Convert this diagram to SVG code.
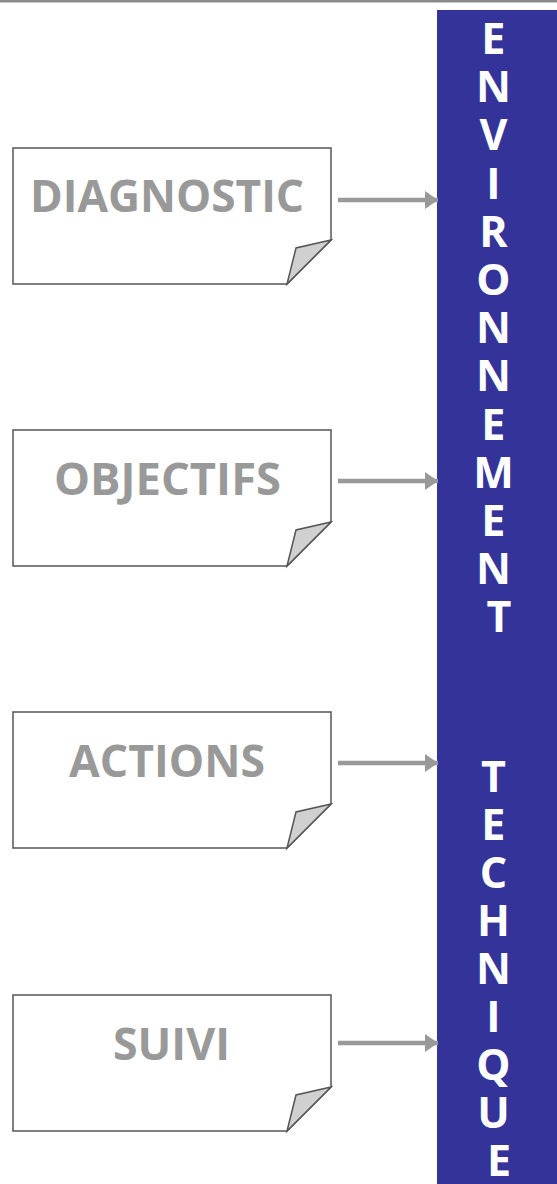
<svg xmlns="http://www.w3.org/2000/svg" width="557" height="1184" viewBox="0 0 557 1184">
  <style>
    .page { fill: #ffffff; stroke: #555555; stroke-width: 1.5; }
    .fold { fill: #d0d0d0; stroke: #555555; stroke-width: 1.5; stroke-linejoin: miter; }
    .label { font-family: "Open Sans", "Liberation Sans", sans-serif; font-weight: bold; font-size: 44px; fill: #999999; }
    .link { stroke: #999999; stroke-width: 4.5; fill: none; }
    .band-text { font-family: "Open Sans", "Liberation Sans", sans-serif; font-weight: bold; font-size: 43px; fill: #ffffff; text-anchor: middle; }
  </style>
  <defs>
    <marker id="head" markerUnits="userSpaceOnUse" markerWidth="14" markerHeight="18" refX="13" refY="9" orient="auto">
      <path d="M0,0 L13,9 L0,18 Z" fill="#999999"/>
    </marker>
  </defs>

  <rect width="557" height="1184" fill="#ffffff"/>
  <!-- top rule -->
  <rect x="0" y="0" width="557" height="2.5" fill="#8a8a8a"/>

  <!-- vertical band -->
  <g id="band">
    <rect x="437" y="10" width="120" height="1174" fill="#333399"/>
    <text class="band-text">
      <tspan x="499" y="54">E</tspan>
      <tspan x="499" y="102">N</tspan>
      <tspan x="499" y="150">V</tspan>
      <tspan x="499" y="199">I</tspan>
      <tspan x="499" y="247">R</tspan>
      <tspan x="499" y="295">O</tspan>
      <tspan x="499" y="343">N</tspan>
      <tspan x="499" y="391">N</tspan>
      <tspan x="499" y="440">E</tspan>
      <tspan x="499" y="488">M</tspan>
      <tspan x="499" y="536">E</tspan>
      <tspan x="499" y="584">N</tspan>
      <tspan x="499" y="632">T</tspan>
    </text>
    <text class="band-text">
      <tspan x="499" y="792">T</tspan>
      <tspan x="499" y="840">E</tspan>
      <tspan x="499" y="888">C</tspan>
      <tspan x="499" y="936">H</tspan>
      <tspan x="499" y="984">N</tspan>
      <tspan x="499" y="1032">I</tspan>
      <tspan x="499" y="1080">Q</tspan>
      <tspan x="499" y="1128">U</tspan>
      <tspan x="499" y="1176">E</tspan>
    </text>
  </g>

  <!-- connectors -->
  <g id="connectors">
    <line class="link" x1="338" y1="200" x2="438" y2="200" marker-end="url(#head)"/>
    <line class="link" x1="338" y1="481" x2="438" y2="481" marker-end="url(#head)"/>
    <line class="link" x1="338" y1="763" x2="438" y2="763" marker-end="url(#head)"/>
    <line class="link" x1="338" y1="1043" x2="438" y2="1043" marker-end="url(#head)"/>
  </g>

  <g id="diagnostic">
    <path class="page" d="M13,148 H331 V240 L287,284 H13 Z"/>
    <path class="fold" d="M331,240 L296,248 L287,284 Z"/>
    <text class="label" x="30" y="212" textLength="274" lengthAdjust="spacingAndGlyphs">DIAGNOSTIC</text>
  </g>

  <g id="objectifs">
    <path class="page" d="M13,430 H331 V522 L287,566 H13 Z"/>
    <path class="fold" d="M331,522 L296,530 L287,566 Z"/>
    <text class="label" x="54" y="495" textLength="227" lengthAdjust="spacingAndGlyphs">OBJECTIFS</text>
  </g>

  <g id="actions">
    <path class="page" d="M13,712 H331 V804 L287,848 H13 Z"/>
    <path class="fold" d="M331,804 L296,812 L287,848 Z"/>
    <text class="label" x="69" y="777" textLength="196" lengthAdjust="spacingAndGlyphs">ACTIONS</text>
  </g>

  <g id="suivi">
    <path class="page" d="M13,995 H331 V1087 L287,1131 H13 Z"/>
    <path class="fold" d="M331,1087 L296,1095 L287,1131 Z"/>
    <text class="label" x="113" y="1060" textLength="117" lengthAdjust="spacingAndGlyphs">SUIVI</text>
  </g>
</svg>
